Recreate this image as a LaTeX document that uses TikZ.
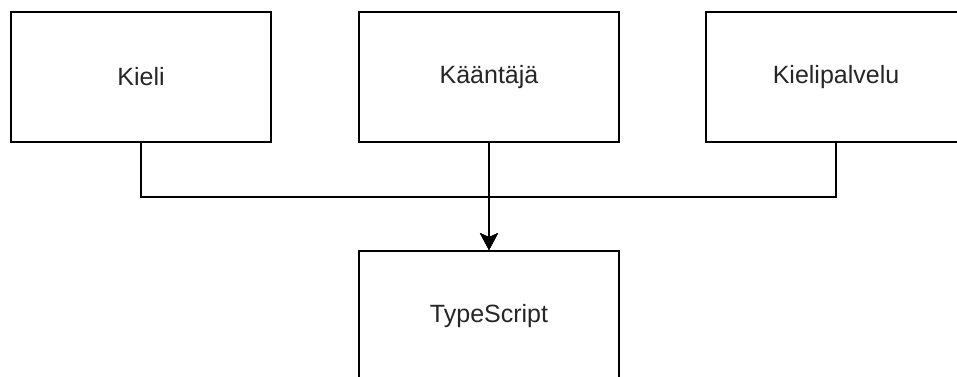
\documentclass[tikz,border=0pt]{standalone}
\usepackage{fontspec}
\setmainfont{Liberation Sans}
\usetikzlibrary{arrows.meta}
\begin{document}
\begin{tikzpicture}[x=1pt,y=-1pt,
  box/.style={draw=black, line width=1.8pt, minimum width=260pt, minimum height=130pt, inner sep=0pt, font=\fontsize{25}{30}\selectfont, text=black!85},
  link/.style={draw=black, line width=1.8pt, -{Stealth[length=17pt,width=18pt,inset=4pt]}}]
\useasboundingbox (0,0) rectangle (957,376);
\clip (0,0) rectangle (957,376);
\fill[white] (0,0) rectangle (957,376);
\node[box] (kieli) at (141,77) {Kieli};
\node[box] (kaantaja) at (489,77) {Kääntäjä};
\node[box] (palvelu) at (836,77) {Kielipalvelu};
\node[box] (ts) at (489,316) {TypeScript};
\coordinate (j1) at (141,197);
\coordinate (j2) at (836,197);
\draw[link] (kieli.south) -- (j1) -| (ts.north);
\draw[link] (palvelu.south) -- (j2) -| (ts.north);
\draw[link] (kaantaja.south) -- (ts.north);
\end{tikzpicture}
\end{document}
